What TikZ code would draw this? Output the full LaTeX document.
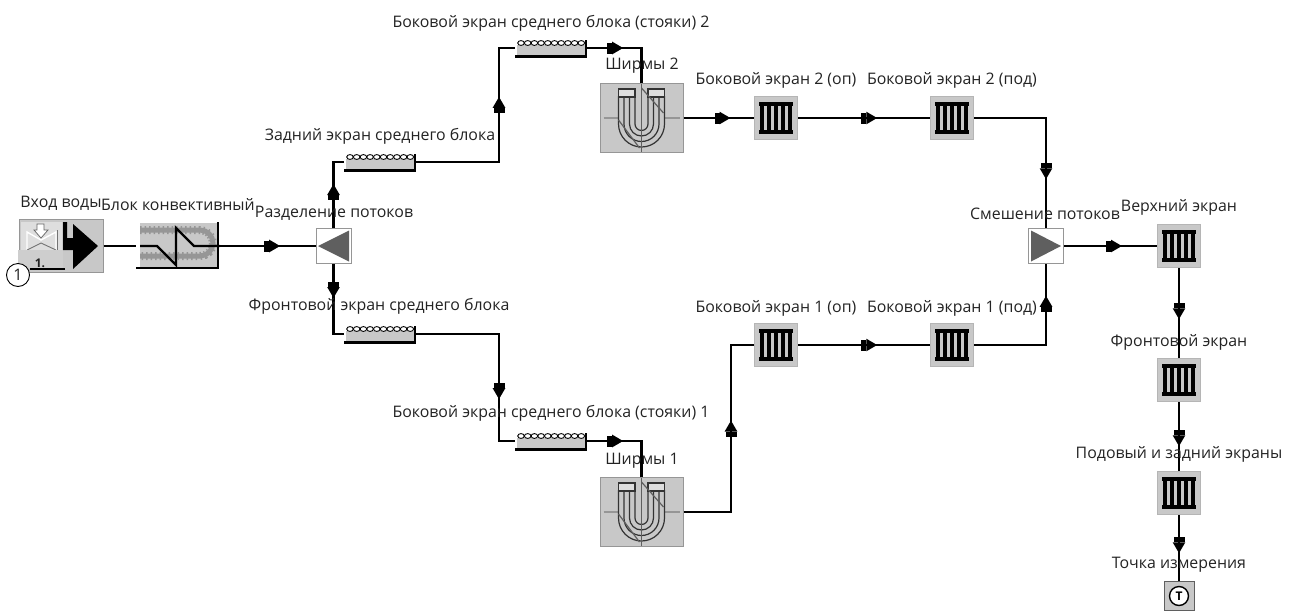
\documentclass[tikz,border=0pt]{standalone}
\usepackage{fontspec}
\setmainfont{Open Sans}
\usetikzlibrary{arrows.meta,decorations.markings}
\definecolor{panelgray}{RGB}{200,200,200}
\definecolor{edgegray}{RGB}{150,150,150}
\definecolor{tubegray}{RGB}{150,150,150}
\definecolor{darkgray}{RGB}{95,95,95}
\definecolor{labgray}{RGB}{35,35,35}
\tikzset{
    flowtip/.tip={Rectangle[length=5pt,width=11pt]Triangle[length=11pt,width=12pt]},
    wire/.style={line width=2.4pt, line cap=butt, line join=miter},
    flow/.style={postaction={decorate}, decoration={markings, mark=at position #1 with {\arrow{flowtip}}}},
    lab/.style={font=\fontsize{15.9}{18}\selectfont, text=labgray, inner sep=0pt, yshift=-2pt},
    radbox/.style={fill=panelgray, draw=edgegray!70, line width=1.5pt, minimum width=43pt, minimum height=43pt, inner sep=0pt,
        path picture={
            \begin{scope}[shift={(path picture bounding box.center)}]
            \fill[black] (-17,-16) rectangle (17,-12);
            \fill[black] (-17,12) rectangle (17,16);
            \foreach \i in {-14,-7,0,7,14} {
                \draw[draw=black, line width=3.2pt] (\i,-16) -- (\i,16);
            }
            \end{scope}
        }},
    tubebox/.style={minimum width=72pt, minimum height=22pt, inner sep=0pt,
        path picture={
            \begin{scope}[shift={(path picture bounding box.center)}]
            \fill[panelgray] (-34,-3) rectangle (34,8);
            \foreach \i in {0,...,9} {
                \draw[draw=black, line width=0.9pt, fill=white] (-30+6.7*\i,-5) ellipse (3.3 and 2.4);
            }
            \draw[draw=black, line width=2.4pt] (-36,8.5) -- (35,8.5) -- (35,-8);
            \end{scope}
        }},
    screenbox/.style={fill=panelgray, draw=edgegray, line width=1pt, minimum width=83pt, minimum height=69pt, inner sep=0pt,
        path picture={
            \begin{scope}[shift={(path picture bounding box.center)}]
            \draw[draw=edgegray, line width=2.6pt] (-38,0) -- (-23,0) (23,0) -- (38,0);
            \foreach \r in {6.5,12,17.5,23} {
                \draw[draw=black!80, line width=1.2pt] (-\r,-22) -- (-\r,6) arc[start angle=180, end angle=0, radius=\r, y=-1pt] -- (\r,-22);
            }
            \draw[draw=black!80, line width=1.2pt, fill=panelgray!60] (-23,-29) rectangle (-6.5,-21);
            \draw[draw=black!80, line width=1.2pt, fill=panelgray!60] (6.5,-29) rectangle (23,-21);
            \draw[draw=darkgray, line width=1.2pt] (0,-34) -- (0,34);
            \draw[draw=darkgray, line width=1.2pt] (0,-30) -- (22,-5) (-23,2) -- (-2,30);
            \end{scope}
        }},
    flowbox/.style={fill=white, draw=edgegray, line width=1pt, minimum width=35pt, minimum height=35pt, inner sep=0pt},
    sensorbox/.style={fill=panelgray, draw=darkgray, line width=1pt, minimum width=30pt, minimum height=29pt, inner sep=0pt,
        font=\fontsize{12}{12}\selectfont\bfseries,
        path picture={
            \draw[draw=black, line width=1.4pt, fill=white] (path picture bounding box.center) circle (9.5);
        }}
}
\begin{document}
\begin{tikzpicture}[x=1pt,y=-1pt]
\useasboundingbox (0,0) rectangle (1294,611);

% inlet and convective block
\node[fill=panelgray, draw=edgegray, line width=1pt, minimum width=84pt, minimum height=53pt, inner sep=0pt] (water) at (61,246) {};
\fill[panelgray!60] (21,222) rectangle (62,250);
\draw[white, line width=1.4pt] (27,250) -- (27,232) -- (41,240) -- (56,232) -- (56,250);
\draw[black!55, line width=0.9pt] (27,250) -- (41,243) -- (56,250) (57.5,230) -- (57.5,250);
\fill[panelgray!90] (18,250) rectangle (63,268);
\fill[white, draw=black!60, line width=0.7pt] (37,224) -- (44,224) -- (44,230) -- (48,230) -- (41,238) -- (34,230) -- (37,230) -- cycle;
\fill[black] (63,222) -- (67,222) -- (67,238) -- (73,238) -- (73,224) -- (98,246) -- (73,269) -- (73,250) -- (63,250) -- cycle;
\node[lab, font=\fontsize{12}{12}\selectfont\bfseries] (stage) at (40,261) {1.};
\coordinate (tag) at (65,269);
\node[circle, draw, fill=white, line width=0.9pt, minimum size=23pt, inner sep=0pt, lab, yshift=2pt] (numone) at (18,275) {1};
\draw[line width=1.4pt] (tag) -- (tag -| numone.east);

\node[minimum width=84pt, minimum height=50pt, inner sep=0pt,
    path picture={
        \begin{scope}[shift={(path picture bounding box.center)}]
        \fill[panelgray] (-38,-23) rectangle (40,21);
        \draw[line width=8pt, edgegray, dash pattern=on 1.5pt off 3pt] (-38,-16) -- (22,-16) arc[start angle=-90, end angle=90, radius=13, y=-1pt] -- (-38,10);
        \draw[line width=5pt, tubegray] (-38,-16) -- (22,-16) arc[start angle=-90, end angle=90, radius=13, y=-1pt] -- (-38,10);
        \draw[draw=black, line width=2.4pt, line join=miter] (-38,0) -- (-21,0) -- (-2,19) -- (-2,-18) -- (16,0) -- (42,0);
        \draw[draw=black, line width=2.4pt] (-42,22) -- (40,22) -- (40,-24);
        \end{scope}
    }] (conv) at (178,246) {};

% flow nodes
\node[flowbox] (split) at (333.5,246) {};
\fill[darkgray] (318,246) -- (349,230.5) -- (349,261.5) -- cycle;
\node[flowbox] (mix) at (1046,246) {};
\fill[darkgray] (1061,246) -- (1031,230.5) -- (1031,261.5) -- cycle;

\node[tubebox] (back) at (380,162) {};
\node[tubebox] (front) at (380,334) {};
\node[tubebox] (side2) at (551,48) {};
\node[tubebox] (side1) at (551,441) {};

\node[screenbox] (screen2) at (641.5,118) {};
\node[screenbox] (screen1) at (641.5,512) {};

\node[radbox] (op2) at (776,118) {};
\node[radbox] (pod2) at (952,118) {};
\node[radbox] (op1) at (776,345) {};
\node[radbox] (pod1) at (952,345) {};
\node[radbox] (top) at (1179,246) {};
\node[radbox] (wall) at (1179,380) {};
\node[radbox] (floor) at (1179,493) {};
\node[sensorbox] (point) at (1179,596) {T};

\coordinate (riser2) at (499,100);
\coordinate (riser1) at (499,390);
\coordinate (riser3) at (731,420);

% connectors
\draw[wire] (water) -- (conv);
\draw[wire, flow=60pt] (conv) -- (split);
\draw[wire, flow=44pt] (split) |- (back);
\draw[wire, flow=34pt] (split) |- (front);
\draw[wire, flow=148pt] (back) -| (riser2) |- (side2);
\draw[wire, flow=148pt] (front) -| (riser1) |- (side1);
\draw[wire, flow=36pt] (side2) -| (screen2);
\draw[wire, flow=36pt] (side1) -| (screen1);
\draw[wire, flow=47pt] (screen2) -- (op2);
\draw[wire, flow=139pt] (screen1) -| (riser3) |- (op1);
\draw[wire, flow=79pt] (op2) -- (pod2);
\draw[wire, flow=79pt] (op1) -- (pod1);
\draw[wire, flow=133pt] (pod2) -| (mix);
\draw[wire, flow=121pt] (pod1) -| (mix);
\draw[wire, flow=58pt] (mix) -- (top);
\draw[wire, flow=51pt] (top) -- (wall);
\draw[wire, flow=44pt] (wall) -- (floor);
\draw[wire, flow=38pt] (floor) -- (point);

% labels
\node[lab] (labwater) at (61,201) {Вход воды};
\node[lab] (labconv) at (178,203) {Блок конвективный};
\node[lab] (labsplit) at (334,211) {Разделение потоков};
\node[lab] (labback) at (380,134) {Задний экран среднего блока};
\node[lab] (labfront) at (379,304) {Фронтовой экран среднего блока};
\node[lab] (labside2) at (551,21) {Боковой экран среднего блока (стояки) 2};
\node[lab] (labside1) at (551,411) {Боковой экран среднего блока (стояки) 1};
\node[lab] (labscreen2) at (642,64) {Ширмы 2};
\node[lab] (labscreen1) at (642,459) {Ширмы 1};
\node[lab] (labop2) at (776,78) {Боковой экран 2 (оп)};
\node[lab] (labpod2) at (952,78) {Боковой экран 2 (под)};
\node[lab] (labop1) at (776,306) {Боковой экран 1 (оп)};
\node[lab] (labpod1) at (952,306) {Боковой экран 1 (под)};
\node[lab] (labmix) at (1045,212) {Смешение потоков};
\node[lab] (labtop) at (1179,205) {Верхний экран};
\node[lab] (labwall) at (1179,340) {Фронтовой экран};
\node[lab] (labfloor) at (1179,452) {Подовый и задний экраны};
\node[lab] (labpoint) at (1179,563) {Точка измерения};

\end{tikzpicture}
\end{document}
